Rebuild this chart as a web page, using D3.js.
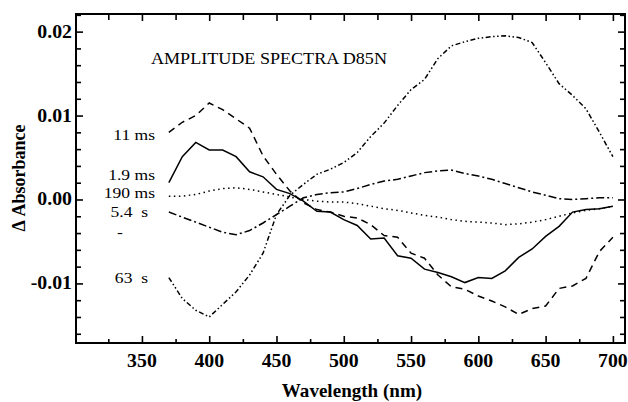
<!DOCTYPE html>
<html lang="en">
  <head>
    <meta charset="utf-8">
    <title>Amplitude Spectra D85N</title>
    <script src="https://d3js.org/d3.v7.min.js"></script>
    <style>
      body { margin: 0; background: white; }
      svg text { font-family: "Liberation Serif", "Times New Roman", serif; fill: black; }
      .tick-label, .axis-title { font-weight: bold; }
      .line { fill: none; stroke: black; stroke-width: 1.5px; }
    </style>
  </head>
  <body>
    <div id="vis"></div>
    <script>
    // wavelengths (nm) and amplitude spectra
    const wavelength = d3.range(370, 701, 10);
    const amp11ms = [0.0080, 0.0092, 0.0100, 0.0115, 0.0107, 0.0096, 0.0085, 0.0052, 0.0030, 0.0010,
      -0.0004, -0.0012, -0.0015, -0.0020, -0.0022, -0.0030, -0.0043, -0.0045, -0.0064, -0.0070,
      -0.0090, -0.0104, -0.0107, -0.0115, -0.0121, -0.0128, -0.0137, -0.0130, -0.0127, -0.0106,
      -0.0103, -0.0094, -0.0062, -0.0045];
    const amp1_9ms = [0.0020, 0.0051, 0.0068, 0.0059, 0.0059, 0.0051, 0.0033, 0.0027, 0.0012, 0.0007,
      -0.0002, -0.0014, -0.0015, -0.0024, -0.0031, -0.0047, -0.0046, -0.0067, -0.0070, -0.0083,
      -0.0087, -0.0092, -0.0099, -0.0093, -0.0094, -0.0085, -0.0069, -0.0059, -0.0044, -0.0032,
      -0.0015, -0.0012, -0.0011, -0.0008];
    const amp190ms = [0.0004, 0.0004, 0.0006, 0.0010, 0.0013, 0.0014, 0.0012, 0.0009, 0.0006, 0.0003,
      0.0000, -0.0002, -0.0003, -0.0003, -0.0005, -0.0008, -0.0011, -0.0013, -0.0016, -0.0019,
      -0.0021, -0.0024, -0.0026, -0.0027, -0.0028, -0.0030, -0.0029, -0.0027, -0.0024, -0.0020,
      -0.0016, -0.0013, -0.0011, -0.0008];
    const amp5_4s = [-0.0015, -0.0021, -0.0027, -0.0033, -0.0039, -0.0042, -0.0037, -0.0028, -0.0018, -0.0008,
      0.0002, 0.0006, 0.0008, 0.0009, 0.0013, 0.0018, 0.0022, 0.0024, 0.0028, 0.0032,
      0.0034, 0.0035, 0.0031, 0.0028, 0.0024, 0.0019, 0.0014, 0.0009, 0.0005, 0.0001,
      0.0000, 0.0001, 0.0002, 0.0002];
    const amp63s = [-0.0093, -0.0118, -0.0132, -0.0140, -0.0125, -0.0110, -0.0090, -0.0064, -0.0018, 0.0005,
      0.0018, 0.0030, 0.0036, 0.0044, 0.0056, 0.0075, 0.0091, 0.0112, 0.0131, 0.0143,
      0.0168, 0.0183, 0.0188, 0.0192, 0.0194, 0.0195, 0.0193, 0.0187, 0.0163, 0.0138,
      0.0124, 0.0108, 0.0080, 0.0051];
    const seriesNames = ["11 ms", "1.9 ms", "190 ms", "5.4  s", "63  s"];
    const xTicks = [350, 400, 450, 500, 550, 600, 650, 700];
    const yTicks = [0.02, 0.01, 0.00, -0.01];

    const width = 628, height = 402;
    const margin = {top: 14, right: 3, bottom: 59, left: 76};

    const series = [
      {name: seriesNames[0], values: amp11ms, dash: "7,5", labelY: 140, labelX: 155},
      {name: seriesNames[1], values: amp1_9ms, dash: null, labelY: 180, labelX: 155},
      {name: seriesNames[2], values: amp190ms, dash: "1.5,3.5", labelY: 198, labelX: 155},
      {name: seriesNames[3], values: amp5_4s, dash: "8,3,2,3", labelY: 217, labelX: 148},
      {name: seriesNames[4], values: amp63s, dash: "5,2.5,1.5,2.5,1.5,2.5", labelY: 283, labelX: 148}
    ];

    const xScale = d3.scaleLinear()
      .domain([301, 709])
      .range([margin.left, width - margin.right]);
    const yScale = d3.scaleLinear()
      .domain([-0.0171, 0.0221])
      .range([height - margin.bottom, margin.top]);

    const svg = d3.select("#vis").append("svg")
      .attr("width", width)
      .attr("height", height);

    // stretched text, the scan is a bit wider than Times
    function addText(x, y, txt, size, sx, anchor, cls) {
      return svg.append("text")
        .attr("class", cls || null)
        .attr("transform", `translate(${x},${y}) scale(${sx},1)`)
        .attr("text-anchor", anchor)
        .style("font-size", size + "px")
        .style("white-space", "pre")
        .text(txt);
    }

    const minorX = d3.range(325, 709, 25).filter(v => v % 50 !== 0);
    const minorY = d3.range(-0.016, 0.0221, 0.002).map(v => +v.toFixed(3))
      .filter(v => Math.abs(v * 100 - Math.round(v * 100)) > 1e-6);

    const plotBottom = height - margin.bottom, plotRight = width - margin.right;

    // inward ticks on all four sides
    function ticks(axis, transform) {
      svg.append("g").attr("transform", transform).call(axis)
        .call(g => g.select(".domain").remove())
        .call(g => g.selectAll("line").attr("stroke-width", 1.6));
    }
    ticks(d3.axisBottom(xScale).tickValues(xTicks).tickSize(-7).tickFormat(""), `translate(0,${plotBottom})`);
    ticks(d3.axisBottom(xScale).tickValues(minorX).tickSize(-4).tickFormat(""), `translate(0,${plotBottom})`);
    ticks(d3.axisTop(xScale).tickValues(xTicks).tickSize(-7).tickFormat(""), `translate(0,${margin.top})`);
    ticks(d3.axisTop(xScale).tickValues(minorX).tickSize(-6).tickFormat(""), `translate(0,${margin.top})`);
    ticks(d3.axisLeft(yScale).tickValues(yTicks).tickSize(-7).tickFormat(""), `translate(${margin.left},0)`);
    ticks(d3.axisLeft(yScale).tickValues(minorY).tickSize(-5).tickFormat(""), `translate(${margin.left},0)`);
    ticks(d3.axisRight(yScale).tickValues(yTicks).tickSize(-7).tickFormat(""), `translate(${plotRight},0)`);
    ticks(d3.axisRight(yScale).tickValues(minorY).tickSize(-5).tickFormat(""), `translate(${plotRight},0)`);

    svg.append("rect")
      .attr("x", margin.left).attr("y", margin.top)
      .attr("width", plotRight - margin.left)
      .attr("height", plotBottom - margin.top)
      .attr("fill", "none").attr("stroke", "black").attr("stroke-width", 2);

    // tick labels
    xTicks.forEach(v => addText(xScale(v), 367, d3.format("d")(v), 18, 1.1, "middle", "tick-label"));
    yTicks.forEach(v => addText(72, yScale(v) + 6, v.toFixed(2), 18, 1.1, "end", "tick-label"));

    const line = d3.line()
      .x((d, i) => xScale(wavelength[i]))
      .y(d => yScale(d));

    svg.selectAll(".line")
      .data(series)
      .enter()
      .append("path")
      .attr("class", "line")
      .attr("stroke-dasharray", d => d.dash)
      .attr("d", d => line(d.values));

    series.forEach(s => addText(s.labelX, s.labelY, s.name, 15, 1.17, "end"));
    addText(120, 237, "-", 15, 1.17, "middle");

    addText(151, 64, "AMPLITUDE SPECTRA D85N", 16, 1.13, "start");

    addText(352, 397, "Wavelength (nm)", 18, 1.06, "middle", "axis-title");
    svg.append("text")
      .attr("class", "axis-title")
      .attr("transform", "translate(25,178) rotate(-90)")
      .attr("text-anchor", "middle")
      .style("font-size", "18px")
      .text("\u0394 Absorbance");
    </script>
  </body>
</html>
